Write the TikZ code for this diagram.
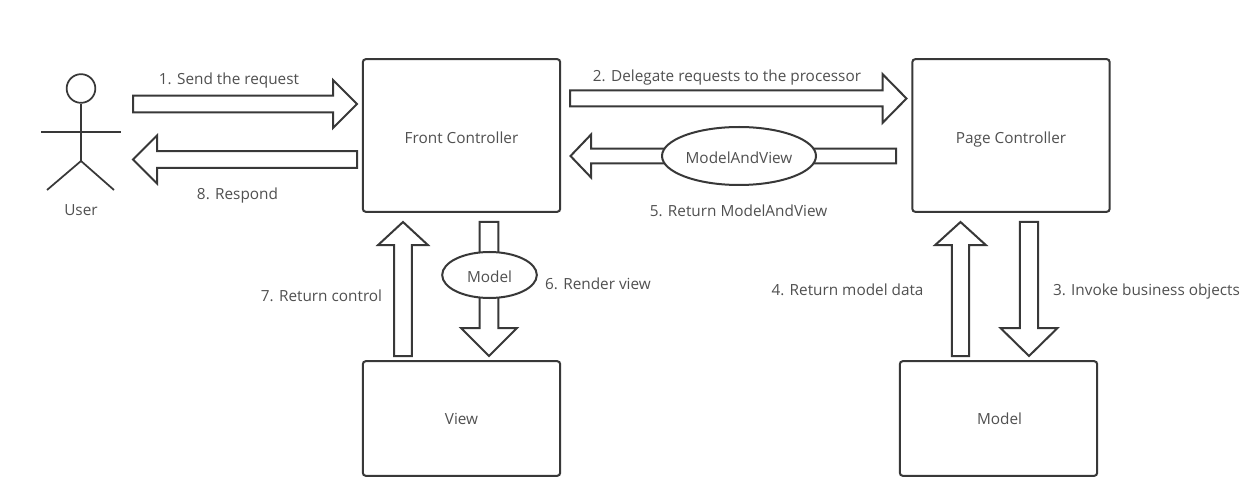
\documentclass[tikz,border=0pt]{standalone}
\usepackage{fontspec}
\setmainfont{Open Sans}
\usetikzlibrary{calc,shapes.geometric}
\definecolor{ink}{HTML}{383838}
\definecolor{txt}{HTML}{505050}
\tikzset{
  x=0.75pt,y=-0.75pt,
  outl/.style={draw=ink,line width=1.5pt,fill=white},
  box/.style={outl,rectangle,rounded corners=2.2pt,minimum width=148pt,inner sep=0pt,text=txt},
  bubble/.style={outl,ellipse,inner sep=0pt,text=txt},
  lbl/.style={anchor=base,inner sep=0pt,text=txt},
  stick/.style={draw=ink,line width=1.3pt},
  blockarrow/.style={draw=ink,line width=1.5pt,fill=white,line join=miter,miter limit=4}
}
% from, to, half shaft, half head, head length (pt)
\newcommand{\blockarrow}[5]{%
  \coordinate (hb) at ($(#2)!#5!(#1)$);
  \draw[blockarrow] ($(#1)!#3!90:(#2)$) -- ($(hb)!#3!90:(#2)$) -- ($(hb)!#4!90:(#2)$) -- (#2)
    -- ($(hb)!#4!-90:(#2)$) -- ($(hb)!#3!-90:(#2)$) -- ($(#1)!#3!-90:(#2)$) -- cycle;
}
\begin{document}
\begin{tikzpicture}[font=\fontsize{11.5pt}{13pt}\selectfont]
\useasboundingbox (0,0) rectangle (1256,495);
\fill[white] (0,0) rectangle (1256,495);
% boxes
\node[box,minimum height=114.5pt] (front) at (461.5,135.5) {};
\node[box,minimum height=114.5pt] (page) at (1011,135.5) {};
\node[box,minimum height=86pt] (view) at (461.5,418.5) {};
\node[box,minimum height=86pt] (modelbox) at (998.5,418.5) {};
\node[lbl] (frontlbl) at (461.5,144) {Front Controller};
\node[lbl] (pagelbl) at (1011,144) {Page Controller};
\node[lbl] (viewlbl) at (461.5,424) {View};
\node[lbl] (modellbl) at (999.5,424) {Model};
% user
\node[outl,ellipse,minimum width=21.5pt,minimum height=21.5pt,inner sep=0pt,line width=1.3pt] (head) at (81,88.5) {};
\coordinate (neck) at (81,132);
\coordinate (hip) at (81,161);
\coordinate (handl) at (41,132);
\coordinate (handr) at (121,132);
\coordinate (footl) at (47,190);
\coordinate (footr) at (114,190);
\draw[stick] (head.south) -- (hip);
\draw[stick] (handl) -- (handr);
\draw[stick] (footl) -- (hip) -- (footr);
\node[lbl] (userlbl) at (81,216) {User};
% block arrows
\coordinate (a1s) at (133,104); \coordinate (a1e) at (357,104);
\blockarrow{a1s}{a1e}{6.2pt}{18pt}{18pt}
\coordinate (a8s) at (357,159.5); \coordinate (a8e) at (133,159.5);
\blockarrow{a8s}{a8e}{6.2pt}{18pt}{18pt}
\coordinate (a2s) at (570,98.5); \coordinate (a2e) at (906.5,98.5);
\blockarrow{a2s}{a2e}{6pt}{18.3pt}{18pt}
\coordinate (a5s) at (896,156); \coordinate (a5e) at (570.5,156);
\blockarrow{a5s}{a5e}{5.5pt}{16.2pt}{15.5pt}
\coordinate (a7s) at (403,356); \coordinate (a7e) at (403,222);
\blockarrow{a7s}{a7e}{6.6pt}{18.7pt}{17.3pt}
\coordinate (a6s) at (489,222); \coordinate (a6e) at (489,356);
\blockarrow{a6s}{a6e}{7pt}{21pt}{21pt}
\coordinate (a4s) at (960.5,356); \coordinate (a4e) at (960.5,222);
\blockarrow{a4s}{a4e}{6.4pt}{19pt}{17.3pt}
\coordinate (a3s) at (1029,222); \coordinate (a3e) at (1029,356);
\blockarrow{a3s}{a3e}{6.8pt}{21.4pt}{21pt}
% data bubbles
\node[bubble,minimum width=115.5pt,minimum height=43.5pt] (mav) at (739,156) {};
\node[lbl] (mavlbl) at (739,164) {ModelAndView};
\node[bubble,minimum width=71pt,minimum height=34.5pt] (modelb) at (489.5,275) {};
\node[lbl] (modelblbl) at (489.5,282) {Model};
% labels
\node[lbl] (l1) at (229,85) {1. Send the request};
\node[lbl] (l2) at (727,82) {2. Delegate requests to the processor};
\node[lbl] (l3) at (1146.5,296) {3. Invoke business objects};
\node[lbl] (l4) at (847.5,296) {4. Return model data};
\node[lbl] (l5) at (738.5,217) {5. Return ModelAndView};
\node[lbl] (l6) at (598,290) {6. Render view};
\node[lbl] (l7) at (321.5,301) {7. Return control};
\node[lbl] (l8) at (237.5,200) {8. Respond};
\end{tikzpicture}
\end{document}
